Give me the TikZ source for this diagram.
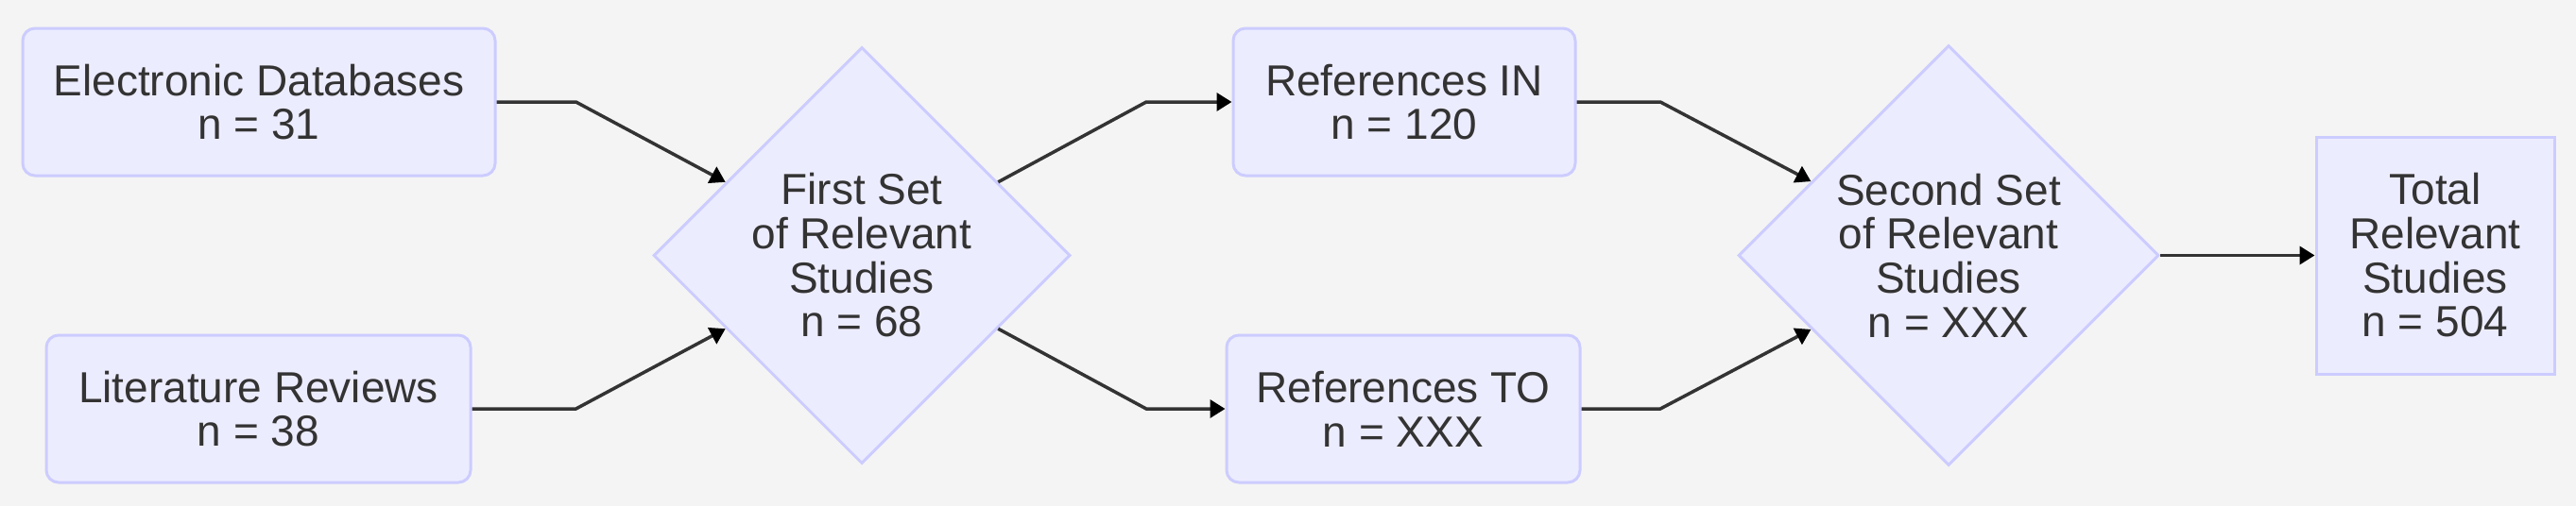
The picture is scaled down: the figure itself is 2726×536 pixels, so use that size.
\documentclass[tikz,border=0pt]{standalone}
\usepackage{fontspec}
\setmainfont{Liberation Sans}
\usetikzlibrary{shapes.geometric,arrows.meta,calc}
\definecolor{bg}{HTML}{F4F4F4}
\definecolor{nodefill}{HTML}{ECECFF}
\definecolor{nodeline}{HTML}{CCCCFF}
\definecolor{txt}{HTML}{333333}
\begin{document}
\begin{tikzpicture}[x=1pt,y=-1pt,
  base/.style={fill=nodefill,draw=nodeline,line width=3pt,text=txt,font=\fontsize{46}{46.7}\selectfont,align=center,inner sep=0pt},
  roundbox/.style={base,rectangle,rounded corners=13pt},
  sqbox/.style={base,rectangle},
  decision/.style={base,diamond,aspect=1},
  link/.style={line width=3.5pt,draw=txt,-{Triangle[length=16pt,width=19pt,color=black]}}]
\path[fill=bg] (0,0) rectangle (2726,536);
\useasboundingbox (0,0) rectangle (2726,536);
\node[roundbox,minimum width=500pt,minimum height=156pt] (ED) at (274,108) {Electronic Databases\\n = 31};
\node[roundbox,minimum width=449pt,minimum height=156pt] (LR) at (273.5,433) {Literature Reviews\\n = 38};
\node[decision,minimum width=441pt,minimum height=441pt] (D1) at (912,270.5) {First Set\\of Relevant\\Studies\\n = 68};
\node[roundbox,minimum width=362pt,minimum height=156pt] (RI) at (1486,108) {References IN\\n = 120};
\node[roundbox,minimum width=374pt,minimum height=156pt] (RT) at (1485,433) {References TO\\n = XXX};
\node[decision,minimum width=445pt,minimum height=445pt] (D2) at (2062,270.5) {Second Set\\of Relevant\\Studies\\n = XXX};
\node[sqbox,minimum width=252pt,minimum height=251pt] (TT) at (2577,270.5) {Total\\Relevant\\Studies\\n = 504};
\coordinate (bx) at (1213,0);
\coordinate (by) at (1757,0);
\draw[link] (ED.east) -- ++(84,0) -- ($(D1.west)!0.35!(D1.north)$);
\draw[link] (LR.east) -- ++(110,0) -- ($(D1.west)!0.35!(D1.south)$);
\draw[link] ($(D1.east)!0.35!(D1.north)$) -- (RI.west -| bx) -- (RI.west);
\draw[link] ($(D1.east)!0.35!(D1.south)$) -- (RT.west -| bx) -- (RT.west);
\draw[link] (RI.east) -- (RI.east -| by) -- ($(D2.west)!0.35!(D2.north)$);
\draw[link] (RT.east) -- (RT.east -| by) -- ($(D2.west)!0.35!(D2.south)$);
\draw[link] (D2.east) -- (TT.west);
\end{tikzpicture}
\end{document}
